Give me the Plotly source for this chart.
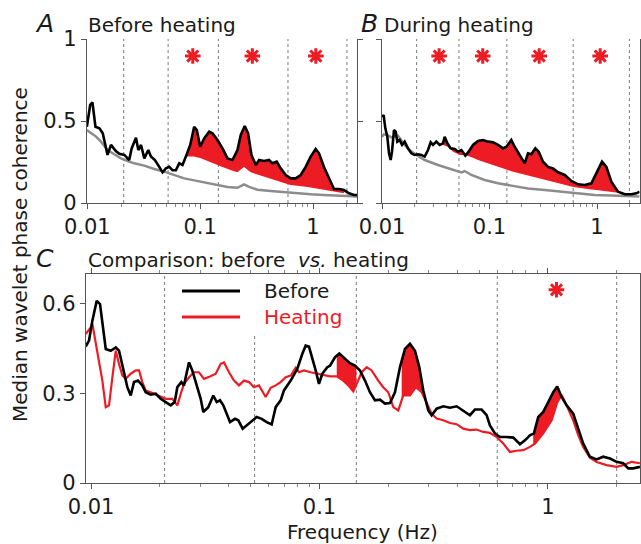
import numpy as np
import plotly.graph_objects as go

# ---------------- data ----------------
BANDS = [0.021, 0.052, 0.145, 0.6, 2.0]

A_BLACK_F = [0.0099,0.0106,0.0111,0.0118,0.0128,0.0137,0.0151,0.0162,0.0179,0.0192,0.0213,0.0235,0.0247,0.0270,0.0283,0.0299,0.0320,0.0347,0.0366,0.0397,0.0434,0.0464,0.0497,0.0532,0.0569,0.0609,0.0652,0.0698,0.0747,0.0816,0.0885,0.0934,0.100,0.1085,0.1201,0.1286,0.1424,0.1577,0.1746,0.1933,0.214,0.229,0.2485,0.2659,0.2847,0.311,0.3329,0.3686,0.408,0.4367,0.477,0.5173,0.5729,0.6343,0.7022,0.7779,0.861,0.9537,1.056,1.13,1.251,1.386,1.534,1.699,1.881,2.083,2.306,2.468]
A_BLACK_V = [0.465,0.598,0.614,0.465,0.455,0.425,0.293,0.354,0.317,0.300,0.293,0.262,0.333,0.398,0.323,0.354,0.272,0.323,0.283,0.262,0.220,0.187,0.211,0.220,0.200,0.200,0.242,0.232,0.283,0.354,0.465,0.445,0.343,0.394,0.435,0.425,0.384,0.333,0.272,0.262,0.323,0.415,0.469,0.425,0.293,0.232,0.262,0.256,0.262,0.242,0.252,0.211,0.171,0.150,0.150,0.171,0.220,0.283,0.329,0.303,0.220,0.150,0.085,0.085,0.079,0.059,0.049,0.049]
A_GRAY_F = [0.0099,0.01078,0.01193,0.01321,0.01513,0.01734,0.01986,0.02275,0.02606,0.03195,0.03917,0.0480,0.0589,0.0722,0.0885,0.1085,0.1424,0.1746,0.214,0.2449,0.2714,0.3217,0.4218,0.5535,0.7266,0.9537,1.251,1.642,2.154,2.468]
A_GRAY_V = [0.445,0.425,0.405,0.374,0.323,0.297,0.272,0.256,0.242,0.228,0.207,0.191,0.171,0.150,0.138,0.126,0.110,0.098,0.093,0.114,0.098,0.081,0.073,0.065,0.057,0.053,0.049,0.045,0.041,0.039]
A_THR_F = [0.0762,0.0885,0.1085,0.1424,0.1868,0.214,0.2449,0.2807,0.3686,0.4833,0.6343,0.832,1.092,1.433,1.881]
A_THR_V = [0.283,0.283,0.268,0.232,0.200,0.187,0.220,0.187,0.160,0.134,0.110,0.100,0.089,0.075,0.059]
A_STAR_F = [0.086, 0.29, 1.06]

B_BLACK_F = [0.0100,0.01036,0.01074,0.01121,0.01162,0.01204,0.01239,0.01293,0.0134,0.01388,0.01459,0.01535,0.01625,0.01745,0.01875,0.02013,0.02162,0.02322,0.02494,0.02679,0.02837,0.02982,0.03202,0.03439,0.03694,0.03827,0.04053,0.04352,0.04743,0.05093,0.0547,0.05959,0.064,0.07023,0.07816,0.0870,0.09683,0.1078,0.1200,0.1335,0.1434,0.1596,0.1714,0.1908,0.2124,0.2281,0.245,0.2669,0.2867,0.3145,0.350,0.3896,0.4337,0.5003,0.5771,0.6658,0.768,0.886,0.9858,1.113,1.221,1.359,1.568,1.809,2.087,2.322,2.494]
B_BLACK_V = [0.526,0.535,0.455,0.404,0.303,0.262,0.313,0.445,0.435,0.374,0.384,0.354,0.374,0.333,0.303,0.293,0.297,0.293,0.283,0.323,0.370,0.354,0.374,0.354,0.364,0.404,0.364,0.333,0.329,0.313,0.323,0.289,0.313,0.354,0.378,0.384,0.374,0.370,0.354,0.333,0.343,0.384,0.343,0.293,0.242,0.303,0.297,0.333,0.313,0.252,0.220,0.211,0.187,0.171,0.134,0.114,0.110,0.120,0.180,0.252,0.220,0.130,0.069,0.053,0.053,0.059,0.069]
B_GRAY_F = [0.0100,0.01044,0.01121,0.01221,0.01409,0.01625,0.01875,0.02494,0.03318,0.04416,0.0547,0.05875,0.06776,0.09016,0.1200,0.1596,0.2281,0.3261,0.4658,0.6658,0.9513,1.359,1.943,2.494]
B_GRAY_V = [0.404,0.419,0.415,0.400,0.410,0.354,0.313,0.262,0.232,0.207,0.187,0.195,0.171,0.140,0.120,0.106,0.089,0.079,0.069,0.059,0.049,0.045,0.039,0.039]
B_THR_F = [0.03694,0.04111,0.04577,0.05279,0.06088,0.07816,0.104,0.1384,0.1842,0.245,0.3261,0.4337,0.5771,0.768,1.022,1.359,1.685]
B_THR_V = [0.354,0.343,0.313,0.293,0.293,0.262,0.232,0.207,0.181,0.160,0.140,0.120,0.100,0.085,0.079,0.069,0.059]
B_STAR_F = [0.034, 0.0865, 0.29, 1.07]

C_BEFORE_F = [0.00948,0.0098,0.01013,0.01059,0.01095,0.01121,0.0116,0.0122,0.01283,0.01326,
              0.01385,0.01442,0.01492,0.01542,0.01606,0.01677,0.01735,0.01825,0.0192,0.02018,
              0.02123,0.02233,0.02325,0.02387,0.02485,0.02553,0.02597,0.02685,0.02775,0.02918,
              0.0302,0.031,0.0326,0.03429,0.03549,0.03669,0.03793,0.03925,0.04058,0.04268,
              0.04412,0.04612,0.04801,0.05049,0.0531,0.05585,0.05873,0.06177,0.06431,0.06763,
              0.06991,0.07482,0.07993,0.08406,0.08699,0.08995,0.093,0.09624,0.0995,0.1029,
              0.1082,0.1112,0.1169,0.1221,0.1293,0.136,0.143,0.1504,0.1582,0.1663,
              0.1749,0.184,0.1935,0.2035,0.214,0.2251,0.2367,0.2489,0.2618,0.2734,
              0.2847,0.2994,0.3097,0.3258,0.3482,0.3726,0.3986,0.4259,0.4556,0.4791,
              0.5125,0.5391,0.5573,0.5861,0.6164,0.6597,0.7052,0.7544,0.7932,0.8342,
              0.8685,0.907,0.9537,1.003,1.055,1.098,1.148,1.207,1.29,1.357,
              1.427,1.527,1.634,1.746,1.868,1.998,2.136,2.246,2.362,2.527]
C_BEFORE_V = [0.457,0.477,0.543,0.610,0.599,0.532,0.449,0.443,0.454,0.443,
              0.377,0.321,0.293,0.338,0.343,0.327,0.304,0.296,0.299,0.282,
              0.271,0.260,0.271,0.321,0.338,0.327,0.354,0.404,0.377,0.321,
              0.282,0.238,0.254,0.293,0.271,0.277,0.260,0.232,0.204,0.215,
              0.210,0.182,0.193,0.210,0.221,0.215,0.204,0.196,0.254,0.277,
              0.310,0.343,0.382,0.432,0.460,0.457,0.421,0.377,0.332,0.366,
              0.388,0.393,0.421,0.434,0.416,0.401,0.393,0.377,0.343,0.304,
              0.277,0.279,0.266,0.268,0.304,0.388,0.449,0.466,0.443,0.388,
              0.310,0.243,0.227,0.249,0.257,0.252,0.257,0.243,0.227,0.246,
              0.246,0.227,0.193,0.166,0.154,0.154,0.152,0.130,0.143,0.160,
              0.166,0.221,0.238,0.271,0.304,0.323,0.288,0.260,0.232,0.182,
              0.132,0.088,0.079,0.088,0.082,0.071,0.066,0.049,0.049,0.054]
C_HEAT_F = [0.00948,0.00997,0.01013,0.01048,0.01084,0.01121,0.0116,0.01199,0.0124,0.01283,
            0.01326,0.01371,0.01419,0.01492,0.01569,0.01623,0.01677,0.01735,0.01825,0.0192,
            0.02018,0.02123,0.02269,0.02387,0.0247,0.02553,0.02685,0.02824,0.02969,0.03122,
            0.03317,0.03514,0.03695,0.0382,0.04017,0.04224,0.04442,0.04671,0.04913,0.05167,
            0.05433,0.05814,0.06114,0.06431,0.06763,0.07113,0.07482,0.07868,0.08136,0.08553,
            0.09152,0.09781,0.1046,0.1112,0.1189,0.1271,0.1337,0.1406,0.1455,0.153,
            0.1609,0.1692,0.1808,0.1901,0.2,0.2104,0.2213,0.2326,0.2489,0.2644,
            0.2802,0.2946,0.3097,0.3258,0.3482,0.3726,0.3986,0.4259,0.4556,0.4871,
            0.5212,0.5573,0.5964,0.6375,0.6821,0.7295,0.7798,0.8342,0.8773,0.9537,
            1.038,1.098,1.148,1.207,1.29,1.357,1.427,1.527,1.634,1.807,
            1.998,2.136,2.246,2.324,2.527]
C_HEAT_V = [0.499,0.521,0.534,0.466,0.410,0.343,0.254,0.260,0.354,0.443,
            0.399,0.360,0.349,0.366,0.377,0.377,0.338,0.310,0.304,0.297,
            0.288,0.282,0.282,0.260,0.299,0.332,0.354,0.371,0.371,0.349,
            0.357,0.366,0.399,0.404,0.371,0.343,0.327,0.343,0.338,0.321,
            0.327,0.288,0.319,0.327,0.338,0.354,0.360,0.386,0.371,0.377,
            0.371,0.366,0.360,0.357,0.357,0.343,0.327,0.307,0.332,0.371,
            0.388,0.377,0.343,0.321,0.304,0.254,0.243,0.293,0.293,0.321,
            0.304,0.266,0.232,0.216,0.210,0.201,0.197,0.182,0.177,0.179,
            0.171,0.168,0.154,0.132,0.104,0.108,0.110,0.121,0.132,0.166,
            0.210,0.270,0.295,0.260,0.210,0.160,0.121,0.085,0.070,0.060,
            0.054,0.060,0.066,0.071,0.066]
C_SIG_LO = [0.119, 0.229, 0.862]
C_SIG_HI = [0.145, 0.295, 1.148]
C_STAR_F = [1.09]
STAR_A_B = 0.896
STAR_C = 0.647

# ---------------- styling ----------------
W, H = 641, 544
RED = "#ed1c24"
GRAY = "#8c8c8c"
AXC = "#555555"
FONT = "DejaVu Sans"


def px(x):
    return x / W


def py(y):
    return 1 - y / H


def fill_poly(fb, vb, ft, vt, lo, hi):
    fb, vb, ft, vt = map(np.asarray, (fb, vb, ft, vt))
    grid = np.unique(np.concatenate([[lo, hi], fb[(fb > lo) & (fb < hi)], ft[(ft > lo) & (ft < hi)]]))
    lg = np.log10(grid)
    b = np.interp(lg, np.log10(fb), vb)
    t = np.interp(lg, np.log10(ft), vt)
    up = np.maximum(b, t)
    return np.concatenate([grid, grid[::-1]]), np.concatenate([up, t[::-1]])


fig = go.Figure()


def band_lines(xa, ya, ymax):
    for b in BANDS:
        fig.add_trace(go.Scatter(x=[b, b], y=[0, ymax], mode="lines", xaxis=xa, yaxis=ya,
                                 line=dict(color="#7a7a7a", width=1, dash="dot"),
                                 hoverinfo="skip", showlegend=False))


def fill_trace(xa, ya, x, y):
    fig.add_trace(go.Scatter(x=x, y=y, mode="lines", fill="toself", fillcolor=RED,
                             line=dict(width=0, color=RED), xaxis=xa, yaxis=ya,
                             hoverinfo="skip", showlegend=False))


def line_trace(xa, ya, f, v, color, width):
    fig.add_trace(go.Scatter(x=f, y=v, mode="lines", xaxis=xa, yaxis=ya,
                             line=dict(color=color, width=width),
                             showlegend=False))


def stars(xa, ya, f, yv):
    fig.add_trace(go.Scatter(x=f, y=[yv] * len(f), mode="markers", xaxis=xa, yaxis=ya,
                             marker=dict(symbol="asterisk", size=13, color=RED,
                                         line=dict(color=RED, width=3)),
                             hoverinfo="skip", showlegend=False))


# Panel A
band_lines("x", "y", 1)
xf, yf = fill_poly(A_BLACK_F, A_BLACK_V, A_THR_F, A_THR_V, A_THR_F[0], A_THR_F[-1])
fill_trace("x", "y", xf, yf)
line_trace("x", "y", A_GRAY_F, A_GRAY_V, GRAY, 2.5)
line_trace("x", "y", A_BLACK_F, A_BLACK_V, "black", 2.6)
stars("x", "y", A_STAR_F, STAR_A_B)

# Panel B
band_lines("x2", "y2", 1)
xf, yf = fill_poly(B_BLACK_F, B_BLACK_V, B_THR_F, B_THR_V, B_THR_F[0], B_THR_F[-1])
fill_trace("x2", "y2", xf, yf)
line_trace("x2", "y2", B_GRAY_F, B_GRAY_V, GRAY, 2.5)
line_trace("x2", "y2", B_BLACK_F, B_BLACK_V, "black", 2.6)
stars("x2", "y2", B_STAR_F, STAR_A_B)

# Panel C
band_lines("x3", "y3", 0.7)
for lo, hi in zip(C_SIG_LO, C_SIG_HI):
    xf, yf = fill_poly(C_BEFORE_F, C_BEFORE_V, C_HEAT_F, C_HEAT_V, lo, hi)
    fill_trace("x3", "y3", xf, yf)
line_trace("x3", "y3", C_HEAT_F, C_HEAT_V, RED, 2.2)
line_trace("x3", "y3", C_BEFORE_F, C_BEFORE_V, "black", 2.6)
stars("x3", "y3", C_STAR_F, STAR_C)

minor_vals = [k * 10.0 ** e for e in (-3, -2, -1, 0) for k in range(2, 10)]


def xaxis(dom, rng, anchor, labels=True, mirror=False):
    return dict(type="log", domain=dom, range=rng, anchor=anchor, automargin=False,
                showgrid=False, zeroline=False,
                showline=True, linecolor=AXC, linewidth=1.3, mirror=mirror,
                ticks="outside", ticklen=5, tickcolor=AXC, tickwidth=1.2,
                tickvals=[0.01, 0.1, 1], ticktext=["0.01", "0.1", "1"],
                showticklabels=labels, tickfont=dict(family=FONT, size=21, color="#1a1a1a"),
                minor=dict(tickvals=minor_vals, ticks="outside", ticklen=3,
                           tickcolor="#888888", tickwidth=1, showgrid=False),
                fixedrange=True)


def yaxis(dom, rng, anchor, vals, text, labels=True):
    return dict(domain=dom, range=rng, anchor=anchor, automargin=False,
                showgrid=False, zeroline=False,
                showline=True, linecolor=AXC, linewidth=1.3, mirror="ticks",
                ticks="outside", ticklen=5, tickcolor=AXC, tickwidth=1.2,
                tickvals=vals, ticktext=text, showticklabels=labels,
                tickfont=dict(family=FONT, size=21, color="#1a1a1a"), fixedrange=True)


yA = [py(203), py(39)]
yC = [py(483), py(274)]

fig.update_layout(
    template="none",
    width=W, height=H, autosize=False,
    margin=dict(l=0, r=0, t=0, b=0, pad=0, autoexpand=False),
    paper_bgcolor="white", plot_bgcolor="white",
    showlegend=False,
    font=dict(family=FONT, color="#1a1a1a"),
    xaxis=xaxis([px(87), px(357)], [-2.003, 0.39], "y"),
    yaxis=yaxis(yA, [0, 1], "x", [0, 0.5, 1], ["0", "0.5", "1"]),
    xaxis2=xaxis([px(382), px(639.5)], [-2.0, 0.395], "y2"),
    yaxis2=yaxis(yA, [0, 1], "x2", [0, 0.5, 1], ["0", "0.5", "1"], labels=False),
    xaxis3=xaxis([px(86), px(640)], [-2.022, 0.403], "y3", mirror="ticks"),
    yaxis3=yaxis(yC, [0, 0.7], "x3", [0, 0.3, 0.6], ["0", "0.3", "0.6"]),
)

# legend (manual) for panel C
shapes = [
    dict(type="rect", xref="paper", yref="paper", x0=px(172), x1=px(340), y0=py(336), y1=py(276),
         fillcolor="white", line=dict(width=0), layer="above"),
    dict(type="line", xref="paper", yref="paper", x0=px(182), x1=px(240), y0=py(291), y1=py(291),
         line=dict(color="black", width=3), layer="above"),
    dict(type="line", xref="paper", yref="paper", x0=px(182), x1=px(240), y0=py(317), y1=py(317),
         line=dict(color=RED, width=3), layer="above"),
]
fig.update_layout(shapes=shapes)


def ann(text, x, y, size=20, xanchor="left", color="#1a1a1a", angle=0):
    fig.add_annotation(text=text, x=px(x), y=py(y), xref="paper", yref="paper",
                       xanchor=xanchor, yanchor="middle", showarrow=False, textangle=angle,
                       font=dict(family=FONT, size=size, color=color))


ann("<i>A</i>", 44, 24, size=25, xanchor="center")
ann("Before heating", 86, 25)
ann("<i>B</i>", 369, 24, size=25, xanchor="center")
ann("During heating", 382, 25)
ann("<i>C</i>", 45, 258, size=25, xanchor="center")
ann("Comparison: before  <i>vs.</i> heating", 86, 260)
ann("Before", 262, 291)
ann("Heating", 262, 317, color=RED)
ann("Median wavelet phase coherence", 20, 255, xanchor="center", angle=-90)
ann("Frequency (Hz)", 362, 532, xanchor="center")

fig.write_html("out.html")
